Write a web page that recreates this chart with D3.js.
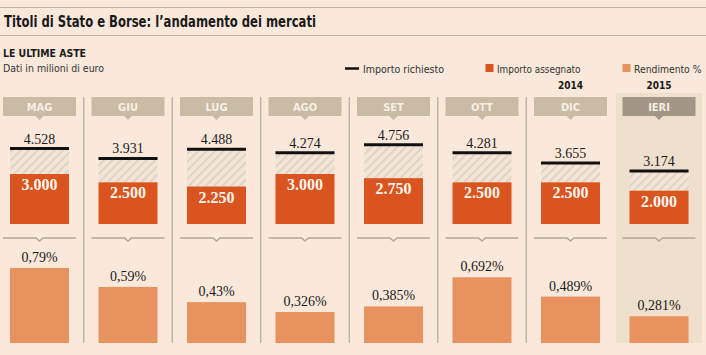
<!DOCTYPE html>
<html>
<head>
<meta charset="utf-8">
<script src="https://cdn.jsdelivr.net/npm/d3@7"></script>
<style>
  html, body { margin: 0; padding: 0; background: #fae8da; }
  svg { display: block; }
</style>
</head>
<body>
<svg id="chart" width="706" height="355"></svg>
<script>
const months = ["MAG", "GIU", "LUG", "AGO", "SET", "OTT", "DIC", "IERI"];
const years = ["", "", "", "", "", "", "2014", "2015"];
const richiesto = [4528, 3931, 4488, 4274, 4756, 4281, 3655, 3174];
const assegnato = [3000, 2500, 2250, 3000, 2750, 2500, 2500, 2000];
const rendimento = [0.79, 0.59, 0.43, 0.326, 0.385, 0.692, 0.489, 0.281];
const highlightIndex = 7;

const C = {
  bg: "#fae8da",
  rule: "#bdb1a3",
  header: "#c9bba4",
  headerHi: "#a29685",
  headerText: "#f6efe6",
  hi: "#efdfcd",
  divider: "#b5a999",
  orange: "#d9541f",
  light: "#e8935f",
  hatchBg: "#f2e5d8",
  hatchLine: "#ddd0c1",
  text: "#1a1a1a"
};
const SANS = "'DejaVu Sans Condensed', 'Liberation Sans Narrow', 'DejaVu Sans', sans-serif";
const SERIF = "'Liberation Serif', 'DejaVu Serif', serif";

const itFmt = d3.formatLocale({decimal: ",", thousands: ".", grouping: [3], currency: ["", "€"]});
const fmtInt = itFmt.format(",");
const fmtPct = v => String(v).replace(".", ",") + "%";

const svg = d3.select("#chart");

// pattern
const defs = svg.append("defs");
const pat = defs.append("pattern").attr("id", "hatch").attr("patternUnits", "userSpaceOnUse")
  .attr("width", 6).attr("height", 6).attr("patternTransform", "rotate(45)");
pat.append("rect").attr("width", 6).attr("height", 6).attr("fill", C.hatchBg);
pat.append("rect").attr("x", 0).attr("y", 0).attr("width", 1.6).attr("height", 6).attr("fill", C.hatchLine);

// Scales
const x = d3.scaleBand().domain(months).range([-4.75, 703.25]).padding(0);
const cx = m => x(m) + x.bandwidth() / 2;
const barW = 59, headW = 73;
const yTop = d3.scaleLinear().domain([0, 6000]).range([224, 124]);
const yBot = d3.scaleLinear().domain([0, 1]).range([343, 248]);

// Title block
svg.append("line").attr("x1", 0).attr("x2", 706).attr("y1", 7.5).attr("y2", 7.5).attr("stroke", C.rule).attr("stroke-width", 1);
svg.append("text").attr("x", 4).attr("y", 27).attr("font-family", SANS).attr("font-size", 16).attr("font-weight", 600)
  .attr("fill", C.text).attr("textLength", 312).attr("lengthAdjust", "spacingAndGlyphs")
  .text("Titoli di Stato e Borse: l’andamento dei mercati");
svg.append("line").attr("x1", 0).attr("x2", 706).attr("y1", 35.5).attr("y2", 35.5).attr("stroke", C.rule).attr("stroke-width", 1);

svg.append("text").attr("x", 3).attr("y", 57).attr("font-family", SANS).attr("font-size", 10).attr("font-weight", "bold")
  .attr("fill", C.text).attr("textLength", 83).attr("lengthAdjust", "spacingAndGlyphs").text("LE ULTIME ASTE");
svg.append("text").attr("x", 3).attr("y", 72).attr("font-family", SANS).attr("font-size", 10)
  .attr("fill", "#333").attr("textLength", 101).attr("lengthAdjust", "spacingAndGlyphs").text("Dati in milioni di euro");

// Legend
const lg = svg.append("g");
lg.append("line").attr("x1", 345).attr("x2", 359).attr("y1", 68.5).attr("y2", 68.5).attr("stroke", "#111").attr("stroke-width", 2.5);
lg.append("text").attr("x", 363).attr("y", 72.5).attr("font-family", SANS).attr("font-size", 10.5).attr("fill", "#333")
  .attr("textLength", 81).attr("lengthAdjust", "spacingAndGlyphs").text("Importo richiesto");
lg.append("rect").attr("x", 485.5).attr("y", 64).attr("width", 8).attr("height", 8).attr("fill", C.orange);
lg.append("text").attr("x", 497).attr("y", 72.5).attr("font-family", SANS).attr("font-size", 10.5).attr("fill", "#333")
  .attr("textLength", 83.5).attr("lengthAdjust", "spacingAndGlyphs").text("Importo assegnato");
lg.append("rect").attr("x", 622.5).attr("y", 64).attr("width", 8).attr("height", 8).attr("fill", C.light);
lg.append("text").attr("x", 634).attr("y", 72.5).attr("font-family", SANS).attr("font-size", 10.5).attr("fill", "#333")
  .attr("textLength", 67.5).attr("lengthAdjust", "spacingAndGlyphs").text("Rendimento %");

// Highlight column background
svg.append("rect").attr("x", cx(months[highlightIndex]) - 43).attr("y", 93)
  .attr("width", 86).attr("height", 250).attr("fill", C.hi);

// Year labels
svg.selectAll("text.year").data(months.filter((m, i) => years[i])).join("text")
  .attr("class", "year").attr("x", d => cx(d)).attr("y", 88.5).attr("text-anchor", "middle")
  .attr("font-family", SANS).attr("font-size", 10).attr("font-weight", "bold").attr("fill", C.text)
  .text(d => years[months.indexOf(d)]);

// Dividers
svg.selectAll("line.div").data(months.slice(0, 6)).join("line").attr("class", "div")
  .attr("x1", d => x(d) + x.bandwidth()).attr("x2", d => x(d) + x.bandwidth())
  .attr("y1", 97).attr("y2", 343).attr("stroke", C.divider).attr("stroke-width", 1.2);

// Column groups
const col = svg.selectAll("g.col").data(months).join("g").attr("class", "col");

// headers
col.append("path")
  .attr("d", d => {
    const c = cx(d), l = c - headW / 2, r = c + headW / 2;
    return `M${l},97 H${r} V116 H${c + 4} L${c},120 L${c - 4},116 H${l} Z`;
  })
  .attr("fill", (d, i) => i === highlightIndex ? C.headerHi : C.header);
col.append("text").attr("x", d => cx(d)).attr("y", 110.5).attr("text-anchor", "middle")
  .attr("font-family", SANS).attr("font-size", 11).attr("font-weight", "bold").attr("fill", C.headerText)
  .text(d => d);

// hatch between assegnato and richiesto
col.append("rect").attr("x", d => cx(d) - barW / 2).attr("width", barW)
  .attr("y", (d, i) => yTop(richiesto[i]))
  .attr("height", (d, i) => yTop(assegnato[i]) - yTop(richiesto[i]))
  .attr("fill", "url(#hatch)");
// assegnato bars
col.append("rect").attr("x", d => cx(d) - barW / 2).attr("width", barW)
  .attr("y", (d, i) => yTop(assegnato[i]))
  .attr("height", (d, i) => yTop(0) - yTop(assegnato[i]))
  .attr("fill", C.orange);
col.append("text").attr("x", d => cx(d)).attr("y", (d, i) => yTop(assegnato[i]) + 16)
  .attr("text-anchor", "middle").attr("font-family", SERIF).attr("font-size", 16).attr("font-weight", "bold")
  .attr("fill", "#fff6ee").text((d, i) => fmtInt(assegnato[i]));
// richiesto line
col.append("line").attr("x1", d => cx(d) - barW / 2).attr("x2", d => cx(d) + barW / 2)
  .attr("y1", (d, i) => yTop(richiesto[i])).attr("y2", (d, i) => yTop(richiesto[i]))
  .attr("stroke", "#111").attr("stroke-width", 3);
col.append("text").attr("x", d => cx(d)).attr("y", (d, i) => yTop(richiesto[i]) - 5)
  .attr("text-anchor", "middle").attr("font-family", SERIF).attr("font-size", 14)
  .attr("fill", C.text).text((d, i) => fmtInt(richiesto[i]));

// separator with chevron
col.append("path")
  .attr("d", d => {
    const c = cx(d), l = c - headW / 2, r = c + headW / 2;
    return `M${l},238 H${c - 3.5} L${c},241 L${c + 3.5},238 H${r}`;
  })
  .attr("fill", "none").attr("stroke", "#b3a898").attr("stroke-width", 1.4);

// rendimento bars
col.append("rect").attr("x", d => cx(d) - barW / 2).attr("width", barW)
  .attr("y", (d, i) => yBot(rendimento[i]))
  .attr("height", (d, i) => yBot(0) - yBot(rendimento[i]))
  .attr("fill", C.light);
col.append("text").attr("x", d => cx(d)).attr("y", (d, i) => yBot(rendimento[i]) - 6)
  .attr("text-anchor", "middle").attr("font-family", SERIF).attr("font-size", 14)
  .attr("fill", C.text).text((d, i) => fmtPct(rendimento[i]));
</script>
</body>
</html>
